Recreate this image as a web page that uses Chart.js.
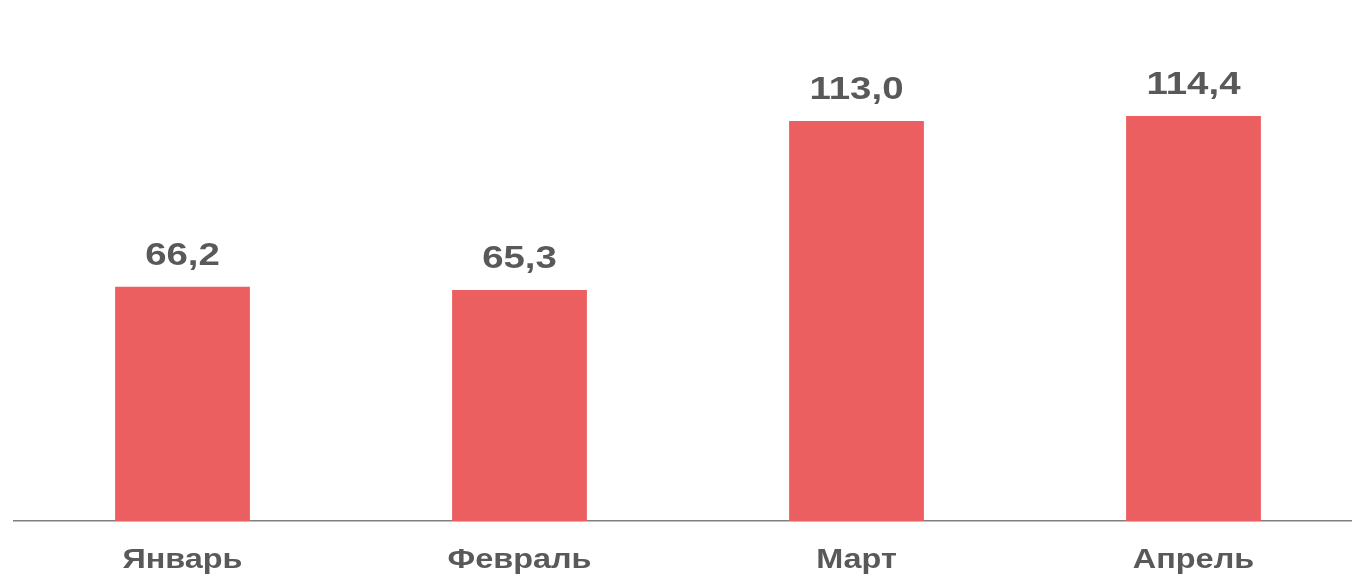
<!DOCTYPE html>
<html>
<head>
<meta charset="utf-8">
<script src="https://cdn.jsdelivr.net/npm/chart.js@4/dist/chart.umd.min.js"></script>
<style>
  html, body { margin: 0; padding: 0; background: #fff; overflow: hidden; }
  #wrap { width: 1362px; height: 576px; }
</style>
</head>
<body>
<div id="wrap"><canvas id="chart"></canvas></div>
<script>
(function() {

var months = ['Январь', 'Февраль', 'Март', 'Апрель'],
    values = [66.2, 65.3, 113.0, 114.4];

const
    barColor = '#EB5F61',
    textColor = '#595959',
    fontFamily = '"Liberation Sans", Arial, sans-serif',
    stretch = 1.2;   // text in the original is drawn wider than plain Arial

const valueFmt = new Intl.NumberFormat('ru-RU', {
    minimumFractionDigits: 1, maximumFractionDigits: 1, useGrouping: false
});

function wideText(ctx, text, x, y) {
    ctx.save();
    ctx.translate(x, y);
    ctx.scale(stretch, 1);
    ctx.fillText(text, 0, 0);
    ctx.restore();
}

// value labels above the bars and month labels under the axis
const barLabels = {
    id: 'barLabels',
    afterDatasetsDraw(chart) {
        const ctx = chart.ctx,
            meta = chart.getDatasetMeta(0),
            xs = chart.scales.x;
        ctx.save();
        ctx.fillStyle = textColor;
        ctx.textAlign = 'center';
        ctx.textBaseline = 'alphabetic';

        ctx.font = 'bold 32px ' + fontFamily;
        meta.data.forEach((bar, i) => {
            wideText(ctx, valueFmt.format(values[i]), bar.x, bar.y - 22);
        });

        ctx.font = 'bold 27px ' + fontFamily;
        xs.getLabels().forEach((label, i) => {
            wideText(ctx, label, xs.getPixelForTick(i), xs.bottom - 8.5);
        });
        ctx.restore();
    }
};

const config = {
    type: 'bar',
    data: {
        labels: months,
        datasets: [{
            data: values,
            backgroundColor: barColor,
            barPercentage: 0.4,
            categoryPercentage: 1.0
        }]
    },
    options: {
        responsive: true,
        maintainAspectRatio: false,
        animation: false,
        layout: { padding: { left: 14, right: 0, top: 0, bottom: 0 } },
        plugins: {
            legend: { display: false },
            tooltip: { enabled: false }
        },
        scales: {
            x: {
                grid: { display: false, drawTicks: false },
                border: { display: true, color: '#808080', width: 1.5 },
                ticks: { display: false },
                afterFit: s => { s.height = 55; }
            },
            y: {
                display: false,
                min: 0,
                max: 147.2
            }
        }
    },
    plugins: [barLabels]
};

window.onload = function () {
    const ctx = document.getElementById('chart').getContext('2d');
    new Chart(ctx, config);
};

})();
</script>
</body>
</html>
